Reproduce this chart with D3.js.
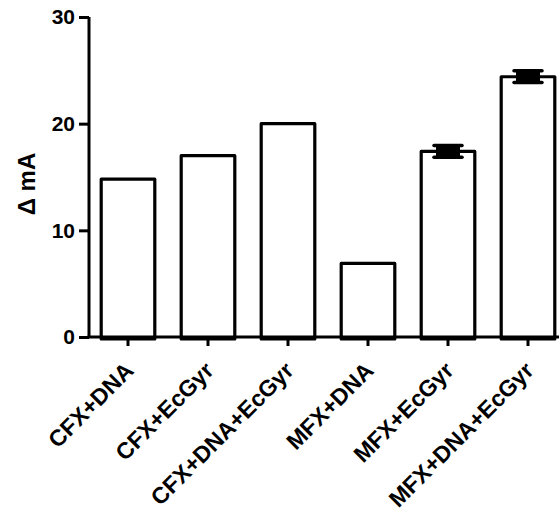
<!DOCTYPE html>
<html><head><meta charset="utf-8">
<script src="https://cdn.jsdelivr.net/npm/d3@7"></script>
<style>body{margin:0;background:#fff;} svg{display:block;}</style>
</head><body>
<svg id="c" width="559" height="514"></svg>
<script>
const categories = ["CFX+DNA","CFX+EcGyr","CFX+DNA+EcGyr","MFX+DNA","MFX+EcGyr","MFX+DNA+EcGyr"];
const values = [14.8, 17.0, 20.0, 6.9, 17.4, 24.4];
const errors = [0, 0, 0, 0, 0.55, 0.55];
const yTicks = [0, 10, 20, 30];
const yLabel = "\u0394 mA";

const svg = d3.select("#c");
const font = "'Liberation Sans', Arial, sans-serif";
const x0 = 89, y0 = 337, yTop = 17;
const y = d3.scaleLinear().domain([0, 30]).range([y0, yTop]);
const x = d3.scaleBand().domain(categories).range([88, 568]).paddingInner(0.33).paddingOuter(0.165);

// bars
svg.append("g").selectAll("rect").data(categories).join("rect")
  .attr("x", d => x(d))
  .attr("y", (d,i) => y(values[i]))
  .attr("width", x.bandwidth())
  .attr("height", (d,i) => y0 - y(values[i]) + 2)
  .attr("fill", "#fff").attr("stroke", "#000").attr("stroke-width", 3.2)
  .attr("stroke-linejoin", "round");

// error bars
const eg = svg.append("g");
categories.forEach((c,i) => {
  if (!errors[i]) return;
  const cx = x(c) + x.bandwidth()/2;
  const hi = y(values[i] + errors[i]), lo = y(values[i] - errors[i]);
  eg.append("line").attr("x1", cx).attr("x2", cx).attr("y1", hi).attr("y2", lo)
    .attr("stroke", "#000").attr("stroke-width", 4);
  [hi, lo].forEach(v => eg.append("line").attr("x1", cx - 14).attr("x2", cx + 14)
    .attr("y1", v).attr("y2", v).attr("stroke", "#000").attr("stroke-width", 3.5)
    .attr("stroke-linecap", "round"));
  eg.append("rect").attr("x", cx - 12).attr("y", hi).attr("width", 24).attr("height", lo - hi)
    .attr("fill", "#000");
});

// y axis
const ya = svg.append("g").attr("transform", `translate(${x0},0)`)
  .call(d3.axisLeft(y).tickValues(yTicks).tickSize(10).tickPadding(4).tickSizeOuter(0));
ya.select(".domain").attr("stroke-width", 3).attr("d", `M0,${yTop}V${y0}`);
ya.selectAll(".tick line").attr("stroke-width", 3);
ya.selectAll(".tick text").attr("font-family", font).attr("font-weight", "bold")
  .attr("font-size", 21).attr("fill", "#000");

// x axis
const xa = svg.append("g").attr("transform", `translate(0,${y0})`)
  .call(d3.axisBottom(x).tickSize(9).tickSizeOuter(0));
xa.select(".domain").attr("stroke-width", 3).attr("d", `M${x0 - 1.5},0H559`);
xa.selectAll(".tick line").attr("stroke-width", 3);
xa.selectAll(".tick text")
  .attr("font-family", font).attr("font-weight", "bold").attr("font-size", 23).attr("fill", "#000")
  .attr("text-anchor", "end").attr("dy", null).attr("y", 0)
  .attr("transform", "translate(7,35) rotate(-45)");

// y label
svg.append("text").attr("transform", "translate(35,184) rotate(-90)")
  .attr("text-anchor", "middle").attr("font-family", font).attr("font-weight", "bold")
  .attr("font-size", 24).attr("fill", "#000").text(yLabel);
</script>
</body></html>
